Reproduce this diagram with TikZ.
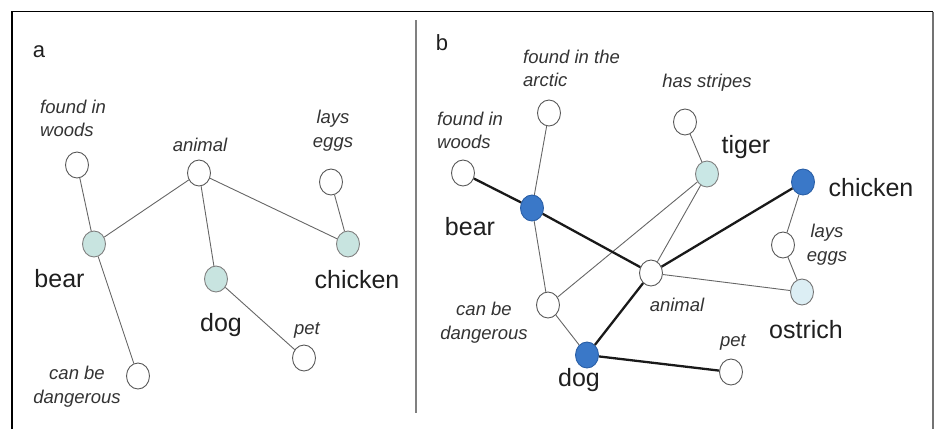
\documentclass[tikz,border=0pt]{standalone}
\usepackage{fontspec}
\setmainfont{Liberation Sans}
\usetikzlibrary{shapes.geometric}
\definecolor{tealA}{HTML}{C8E4E0}
\definecolor{tealB}{HTML}{C9E7E5}
\definecolor{paleB}{HTML}{DCEEF4}
\definecolor{blueN}{HTML}{3A78C8}
\definecolor{blueD}{HTML}{2A5FA6}
\begin{document}
\begin{tikzpicture}[x=1pt,y=-1pt,
  vnode/.style={ellipse,draw=black!65,line width=0.9pt,fill=white,minimum width=23pt,minimum height=26pt,inner sep=0pt},
  tnode/.style={vnode,fill=tealA,draw=black!50},
  t2node/.style={vnode,fill=tealB,draw=black!50},
  pnode/.style={vnode,fill=paleB,draw=black!55},
  bnode/.style={vnode,fill=blueN,draw=blueD},
  small/.style={font=\fontsize{18.5}{23.5}\selectfont\itshape,text=black!80,inner sep=0pt},
  big/.style={font=\fontsize{25}{28}\selectfont,text=black!88,inner sep=0pt},
  plabel/.style={font=\fontsize{22}{24}\selectfont,text=black!88,inner sep=0pt},
  thin/.style={draw=black!60,line width=0.9pt},
  thick/.style={draw=black!90,line width=2.3pt}]
\useasboundingbox (0,0) rectangle (936,429);
% frame
\draw[black,line width=1.4pt] (12,429) -- (12,11.5) -- (933,11.5);
\draw[black!55,line width=2pt] (933,11.5) -- (933,429);
\draw[black!50,line width=1.6pt] (416,20) -- (416,413);

% ---------- panel a ----------
\node[plabel] (la) at (39,52) {a};
\node[vnode] (aw) at (77,165) {};
\node[vnode] (aan) at (199,173) {};
\node[vnode] (aeg) at (331,182) {};
\node[tnode] (abe) at (94,244) {};
\node[tnode] (ach) at (348,244) {};
\node[tnode] (ado) at (216,279) {};
\node[vnode] (ape) at (304,358) {};
\node[vnode] (ada) at (138,376) {};

\node[small,align=left,anchor=west] (taw) at (40,118.5) {found in\\woods};
\node[small] (taan) at (200,145) {animal};
\node[small,align=center] (taeg) at (333,130.5) {lays\\eggs};
\node[big] (tabe) at (59.5,279) {bear};
\node[big] (tach) at (357,280) {chicken};
\node[big] (tado) at (221,325) {dog};
\node[small] (tape) at (307,330) {pet};
\node[small,align=center] (tada) at (77,386.5) {can be\\dangerous};

\draw[thin] (aw) -- (abe);
\draw[thin] (abe) -- (ada);
\draw[thin] (abe) -- (aan);
\draw[thin] (aan) -- (ado);
\draw[thin] (aan) -- (ach);
\draw[thin] (aeg) -- (ach);
\draw[thin] (ado) -- (ape);

% ---------- panel b ----------
\node[plabel] (lb) at (442,43) {b};
\node[vnode] (bar) at (549,113) {};
\node[vnode] (bw) at (463,173) {};
\node[vnode] (bst) at (685,122) {};
\node[t2node] (bti) at (707,174) {};
\node[bnode] (bch) at (803,182) {};
\node[bnode] (bbe) at (532,208) {};
\node[vnode] (beg) at (783,245) {};
\node[vnode] (ban) at (651,273) {};
\node[pnode] (bos) at (802,292) {};
\node[vnode] (bda) at (548,305) {};
\node[bnode] (bdo) at (587,355) {};
\node[vnode] (bpe) at (731,372) {};

\node[small,align=left,anchor=west] (tbar) at (523,68.5) {found in the\\arctic};
\node[small] (tbst) at (707,83) {has stripes};
\node[small,align=left,anchor=west] (tbw) at (437,130.5) {found in\\woods};
\node[big] (tbti) at (746,147) {tiger};
\node[big] (tbch) at (871,188) {chicken};
\node[big] (tbbe) at (470,227) {bear};
\node[small,align=center] (tbeg) at (827,244.5) {lays\\eggs};
\node[small] (tban) at (677,305) {animal};
\node[big] (tbos) at (806,330) {ostrich};
\node[small,align=center] (tbda) at (484,322.5) {can be\\dangerous};
\node[big] (tbdo) at (579,380) {dog};
\node[small] (tbpe) at (733,342) {pet};

\draw[thin] (bar) -- (bbe);
\draw[thin] (bbe) -- (bda);
\draw[thin] (bda) -- (bdo);
\draw[thin] (bda) -- (bti);
\draw[thin] (bti) -- (ban);
\draw[thin] (bst) -- (bti);
\draw[thin] (bch) -- (beg);
\draw[thin] (beg) -- (bos);
\draw[thin] (ban) -- (bos);
\draw[thick] (bw) -- (bbe);
\draw[thick] (bbe) -- (ban);
\draw[thick] (ban) -- (bch);
\draw[thick] (ban) -- (bdo);
\draw[thick] (bdo) -- (bpe);
\end{tikzpicture}
\end{document}
